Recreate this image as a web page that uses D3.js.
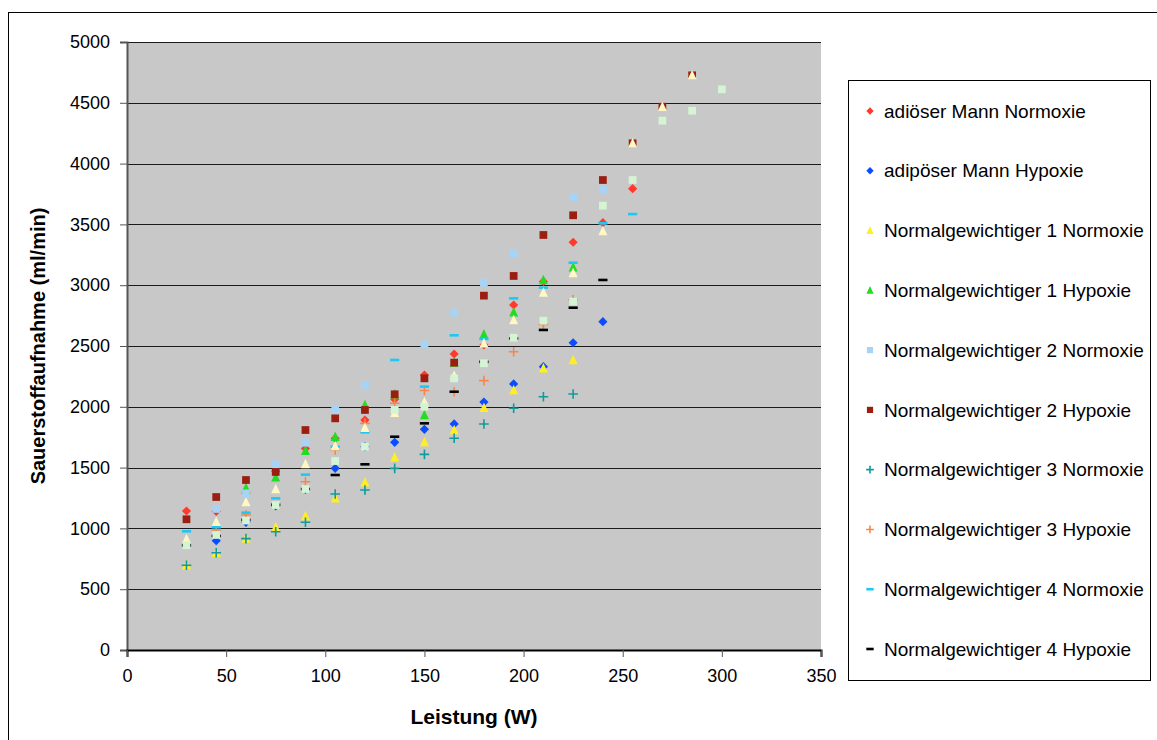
<!DOCTYPE html>
<html>
<head>
<meta charset="utf-8">
<script src="https://cdn.jsdelivr.net/npm/d3@7/dist/d3.min.js"></script>
<style>
  html, body { margin: 0; padding: 0; background: #fff; }
  svg { display: block; font-family: "Liberation Sans", Arial, sans-serif; }
</style>
</head>
<body>
<svg id="chart" width="1157" height="740"></svg>
<script>
// Workload steps (W)
const leistung = [30, 45, 60, 75, 90, 105, 120, 135, 150, 165, 180, 195, 210, 225, 240, 255, 270, 285, 300];

// Oxygen uptake (ml/min) per subject and condition; null = no measurement
const adipoesNormoxie = [1143, 1140, 1290, 1470, 1658, 1740, 1891, 2062, 2261, 2434, 2508, 2837, 3030, 3353, 3514, 3794, null, null, null];
const adipoesHypoxie  = [870, 899, 1050, 1185, 1320, 1494, 1672, 1708, 1815, 1859, 2039, 2188, 2330, 2527, 2700, null, null, null, null];
const ng1Normoxie     = [697, 800, 916, 1009, 1102, 1247, 1379, 1585, 1711, 1809, 1993, 2138, 2317, 2385, null, null, null, null, null];
const ng1Hypoxie      = [null, null, 1332, 1420, 1639, 1754, 2015, 2103, 1933, 2365, 2596, 2777, 3043, 3147, null, null, null, null, null];
const ng2Normoxie     = [null, 1160, 1288, 1527, 1705, 1979, 2179, null, 2512, 2774, 3021, 3262, null, 3725, 3790, null, null, null, null];
const ng2Hypoxie      = [1075, 1258, 1398, 1464, 1809, 1905, 1974, 2103, 2234, 2363, 2914, 3076, 3413, 3575, 3865, 4167, 4468, 4726, null];
const ng3Normoxie     = [697, 800, 916, 973, 1050, 1283, 1316, 1494, 1609, 1741, 1859, 1988, 2083, 2105, null, null, null, null, null];
const ng3Hypoxie      = [null, 987, 1110, null, 1384, 1645, 1864, 2029, 2134, 2124, 2215, 2453, 2678, 2880, null, null, null, null, null];
const ng4Normoxie     = [976, 1009, 1129, 1247, 1442, 1672, 1790, 2385, 2166, 2588, 2558, 2892, 2980, 3185, 3509, 3585, null, null, null];
const ng4Hypoxie      = [860, 938, 1070, 1195, 1324, 1439, 1527, 1754, 1864, 2124, 2370, 2562, 2632, 2815, 3043, null, null, null, null];
const zusatzDreieck   = [913, 1055, 1217, 1324, 1530, 1678, 1828, 1952, 2040, 2256, 2522, 2714, 2939, 3100, 3446, 4167, 4468, 4726, null];
const zusatzQuadrat   = [861, 946, 1064, 1192, 1324, 1554, 1672, 1974, 2001, 2234, 2358, 2568, 2708, 2865, 3654, 3865, 4353, 4435, 4611];

const seriesNames = [
  "adiöser Mann Normoxie",
  "adipöser Mann Hypoxie",
  "Normalgewichtiger 1 Normoxie",
  "Normalgewichtiger 1 Hypoxie",
  "Normalgewichtiger 2 Normoxie",
  "Normalgewichtiger 2 Hypoxie",
  "Normalgewichtiger 3 Normoxie",
  "Normalgewichtiger 3 Hypoxie",
  "Normalgewichtiger 4 Normoxie",
  "Normalgewichtiger 4 Hypoxie"
];

const xTicks = [0, 50, 100, 150, 200, 250, 300, 350];
const yTicks = [0, 500, 1000, 1500, 2000, 2500, 3000, 3500, 4000, 4500, 5000];

// Marker style per series (drawn in this order, later series on top)
const series = [
  { values: adipoesNormoxie, shape: "diamond",  color: "#ff3a2c", legend: 0 },
  { values: adipoesHypoxie,  shape: "diamond",  color: "#0a4cff", legend: 1 },
  { values: ng1Normoxie,     shape: "triangle", color: "#ffee22", legend: 2 },
  { values: ng1Hypoxie,      shape: "triangle", color: "#22dd22", legend: 3 },
  { values: ng2Normoxie,     shape: "square",   color: "#a6d4f6", legend: 4 },
  { values: ng2Hypoxie,      shape: "square",   color: "#9a1f12", legend: 5 },
  { values: ng3Normoxie,     shape: "plus",     color: "#129a9a", legend: 6 },
  { values: ng3Hypoxie,      shape: "plus",     color: "#f8864a", legend: 7 },
  { values: ng4Normoxie,     shape: "dash",     color: "#1ec8f4", legend: 8 },
  { values: ng4Hypoxie,      shape: "dash",     color: "#000000", legend: 9 },
  { values: zusatzDreieck,   shape: "triangle", color: "#fff8c4", legend: null },
  { values: zusatzQuadrat,   shape: "square",   color: "#d4f4d4", legend: null }
];

const svg = d3.select("#chart");
const plot = { left: 127, right: 821, top: 42, bottom: 650 };

const x = d3.scaleLinear().domain([0, 350]).range([plot.left, plot.right]);
const y = d3.scaleLinear().domain([0, 5000]).range([plot.bottom, plot.top]);

// Outer chart frame
svg.append("rect")
  .attr("x", 8.5).attr("y", 12.5).attr("width", 1170).attr("height", 760)
  .attr("fill", "#fff").attr("stroke", "#000").attr("stroke-width", 1);

// Plot area
svg.append("rect")
  .attr("x", plot.left).attr("y", plot.top)
  .attr("width", plot.right - plot.left).attr("height", plot.bottom - plot.top)
  .attr("fill", "#c8c8c8");

// Horizontal gridlines
svg.append("g")
  .selectAll("line")
  .data(yTicks.filter(d => d > 0))
  .join("line")
  .attr("x1", plot.left).attr("x2", plot.right)
  .attr("y1", d => Math.round(y(d)) + 0.5).attr("y2", d => Math.round(y(d)) + 0.5)
  .attr("stroke", "#1a1a1a").attr("stroke-width", 1);

// Axes
const yAxis = d3.axisLeft(y).tickValues(yTicks).tickSize(7).tickPadding(10).tickFormat(d3.format("d"));
const gy = svg.append("g").attr("transform", `translate(${plot.left},0)`).call(yAxis);
gy.select(".domain").attr("stroke", "#555").attr("stroke-width", 2);
gy.selectAll(".tick line").attr("stroke", "#555");
gy.selectAll("text").attr("font-size", 18).attr("fill", "#000")
  .attr("font-family", "Liberation Sans, Arial, sans-serif");

const xAxis = d3.axisBottom(x).tickValues(xTicks).tickSize(7).tickPadding(12).tickFormat(d3.format("d"));
const gx = svg.append("g").attr("transform", `translate(0,${plot.bottom})`).call(xAxis);
gx.select(".domain").attr("stroke", "#000").attr("stroke-width", 2);
gx.selectAll(".tick line").attr("stroke", "#555");
gx.selectAll("text").attr("font-size", 18).attr("fill", "#000")
  .attr("font-family", "Liberation Sans, Arial, sans-serif");

// Axis titles
svg.append("text")
  .attr("x", (plot.left + plot.right) / 2).attr("y", 724)
  .attr("text-anchor", "middle").attr("font-size", 21).attr("font-weight", "bold")
  .text("Leistung (W)");

svg.append("text")
  .attr("transform", `translate(45,${(plot.top + plot.bottom) / 2}) rotate(-90)`)
  .attr("text-anchor", "middle").attr("font-size", 20).attr("font-weight", "bold")
  .text("Sauerstoffaufnahme (ml/min)");

// Marker drawing helper
function drawMarker(g, shape, color, scale) {
  const s = scale || 1;
  if (shape === "diamond") {
    g.append("path")
      .attr("d", d3.symbol(d3.symbolSquare, 42 * s * s)())
      .attr("transform", "rotate(45)")
      .attr("fill", color);
  } else if (shape === "square") {
    g.append("path").attr("d", d3.symbol(d3.symbolSquare, 60 * s * s)()).attr("fill", color);
  } else if (shape === "triangle") {
    const h = 8.5 * s, w = 9 * s;
    g.append("path")
      .attr("d", `M0,${-h / 2 - 1}L${w / 2},${h / 2}L${-w / 2},${h / 2}Z`)
      .attr("fill", color);
  } else if (shape === "plus") {
    const a = 4.8 * s;
    g.append("path")
      .attr("d", `M${-a},0H${a}M0,${-a}V${a}`)
      .attr("stroke", color).attr("stroke-width", 1.6).attr("fill", "none");
  } else if (shape === "dash") {
    g.append("rect")
      .attr("x", -4.6 * s).attr("y", -1.3).attr("width", 9.2 * s).attr("height", 2.6)
      .attr("fill", color);
  }
}

// Data points
const pointsLayer = svg.append("g");
series.forEach(sr => {
  const pts = leistung.map((w, i) => ({ w, v: sr.values[i] })).filter(p => p.v != null);
  pointsLayer.append("g")
    .selectAll("g")
    .data(pts)
    .join("g")
    .attr("transform", p => `translate(${x(p.w)},${y(p.v)})`)
    .each(function () { drawMarker(d3.select(this), sr.shape, sr.color, 1); });
});

// Legend
const legend = svg.append("g");
legend.append("rect")
  .attr("x", 848.5).attr("y", 80.5).attr("width", 302).attr("height", 600)
  .attr("fill", "#fff").attr("stroke", "#000").attr("stroke-width", 1);

const legendItems = series.filter(sr => sr.legend != null);
const ly = d3.scaleLinear().domain([0, 9]).range([111, 649]);
const li = legend.selectAll("g.item")
  .data(legendItems)
  .join("g")
  .attr("class", "item")
  .attr("transform", sr => `translate(870,${ly(sr.legend)})`);
li.each(function (sr) { drawMarker(d3.select(this), sr.shape, sr.color, 0.8); });
li.append("text")
  .attr("x", 14).attr("y", 0).attr("dy", "0.35em")
  .attr("font-size", 19).attr("fill", "#000")
  .text(sr => seriesNames[sr.legend]);
</script>
</body>
</html>
